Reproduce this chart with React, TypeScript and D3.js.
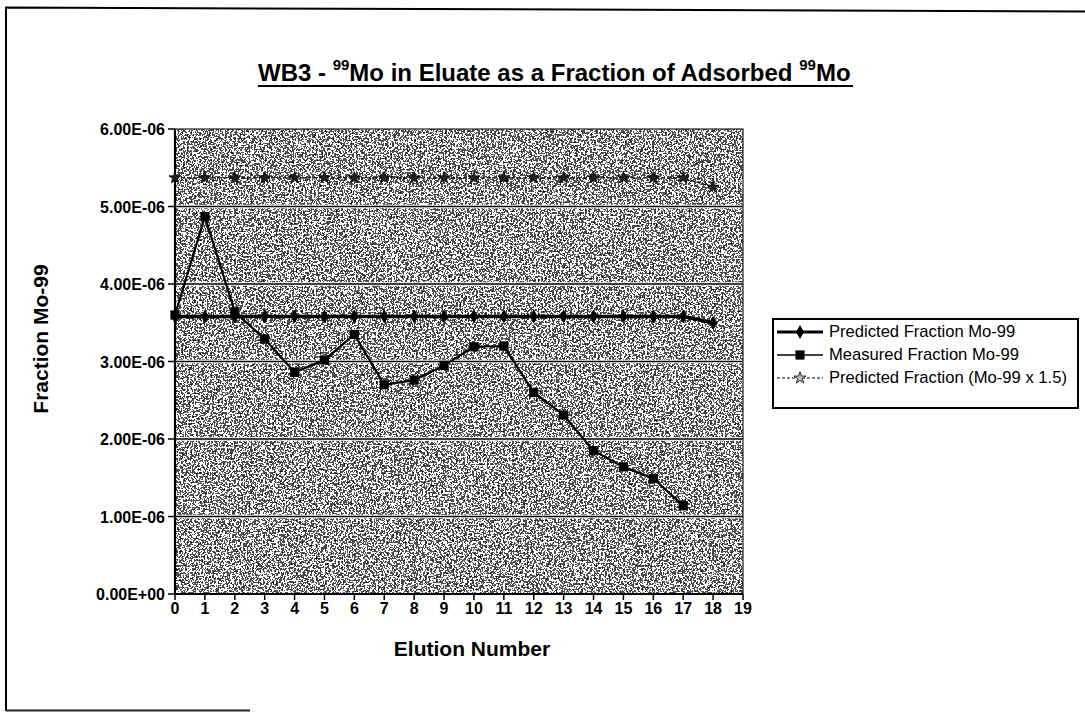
import React from "react";
import * as d3 from "d3";

// Elution numbers shown on the category axis
const elutions: number[] = d3.range(0, 20);

// Predicted fraction of adsorbed Mo-99 appearing in each eluate
const predicted: number[] = [
  3.58e-6, 3.58e-6, 3.58e-6, 3.58e-6, 3.58e-6, 3.58e-6, 3.58e-6, 3.58e-6, 3.58e-6, 3.58e-6,
  3.58e-6, 3.58e-6, 3.58e-6, 3.58e-6, 3.58e-6, 3.58e-6, 3.58e-6, 3.58e-6, 3.5e-6,
];

// Measured fraction (elutions 0-17)
const measured: number[] = [
  3.6e-6, 4.87e-6, 3.64e-6, 3.29e-6, 2.86e-6, 3.02e-6, 3.35e-6, 2.7e-6, 2.76e-6, 2.95e-6,
  3.19e-6, 3.2e-6, 2.6e-6, 2.31e-6, 1.85e-6, 1.64e-6, 1.49e-6, 1.14e-6,
];

// Predicted fraction scaled by 1.5
const predicted15: number[] = [
  5.37e-6, 5.37e-6, 5.37e-6, 5.37e-6, 5.37e-6, 5.37e-6, 5.37e-6, 5.37e-6, 5.37e-6, 5.37e-6,
  5.37e-6, 5.37e-6, 5.37e-6, 5.37e-6, 5.37e-6, 5.37e-6, 5.37e-6, 5.37e-6, 5.25e-6,
];

const yTicks: number[] = [0, 1e-6, 2e-6, 3e-6, 4e-6, 5e-6, 6e-6];
const yTickLabels: string[] = ["0.00E+00", "1.00E-06", "2.00E-06", "3.00E-06", "4.00E-06", "5.00E-06", "6.00E-06"];

const legendLabels: string[] = [
  "Predicted Fraction Mo-99",
  "Measured Fraction Mo-99",
  "Predicted Fraction (Mo-99 x 1.5)",
];

const FONT = "'Liberation Sans', Arial, sans-serif";

export default function App() {
  const W = 1085;
  const H = 713;
  const left = 175;
  const right = 743;
  const top = 129;
  const bottom = 594;

  const x = d3.scalePoint<number>().domain(elutions).range([left, right]);
  const y = d3.scaleLinear().domain([0, 6e-6]).range([bottom, top]);

  const line = d3
    .line<number>()
    .x((_, i) => x(elutions[i]) as number)
    .y((d) => y(d));

  const diamond = d3.symbol().type(d3.symbolDiamond).size(56)() as string;
  const square = d3.symbol().type(d3.symbolSquare).size(85)() as string;
  const star = d3.symbol().type(d3.symbolStar).size(45)() as string;

  const legX = 773;
  const legY = 319;
  const legRowY = [332, 355, 378];

  return (
    <svg
      width={W}
      height={H}
      viewBox={`0 0 ${W} ${H}`}
      style={{ position: "absolute", left: 0, top: 0, background: "#fff" }}
    >
      <defs>
        <filter
          id="grain"
          x="0"
          y="0"
          width="1"
          height="1"
          filterUnits="objectBoundingBox"
          colorInterpolationFilters="sRGB"
        >
          <feTurbulence type="fractalNoise" baseFrequency="0.55" numOctaves="2" seed="7" result="noise" />
          <feColorMatrix in="noise" type="saturate" values="0" result="gray" />
          <feComponentTransfer in="gray">
            <feFuncR type="discrete" tableValues="0 0.05 0.3 1 1 1" />
            <feFuncG type="discrete" tableValues="0 0.05 0.3 1 1 1" />
            <feFuncB type="discrete" tableValues="0 0.05 0.3 1 1 1" />
            <feFuncA type="discrete" tableValues="1" />
          </feComponentTransfer>
        </filter>
      </defs>

      {/* page frame */}
      <path d={`M${W},11.5 L6,7.5 L6,711`} fill="none" stroke="#000" strokeWidth={2} />
      <line x1={6} y1={710.5} x2={250} y2={710.5} stroke="#222" strokeWidth={2} />

      {/* title */}
      <text x={258} y={81} fontFamily={FONT} fontWeight="bold" fontSize={24} fill="#000">
        <tspan>WB3 -  </tspan>
        <tspan fontSize={15} dy={-11}>99</tspan>
        <tspan dy={11}>Mo in Eluate as a Fraction of Adsorbed </tspan>
        <tspan fontSize={15} dy={-11}>99</tspan>
        <tspan dy={11}>Mo</tspan>
      </text>
      <line x1={258} y1={86} x2={853} y2={86} stroke="#000" strokeWidth={2} />

      {/* plot area */}
      <rect x={left} y={top} width={right - left} height={bottom - top} fill="#808080" />
      <rect x={left} y={top} width={right - left} height={bottom - top} filter="url(#grain)" />

      {/* gridlines */}
      {yTicks.slice(1, -1).map((t) => (
        <g key={`g${t}`}>
          <line x1={left} x2={right} y1={y(t)} y2={y(t)} stroke="#fff" strokeWidth={3.5} />
          <line x1={left} x2={right} y1={y(t)} y2={y(t)} stroke="#000" strokeWidth={1.3} />
        </g>
      ))}
      <rect x={left} y={top} width={right - left} height={bottom - top} fill="none" stroke="#222" strokeWidth={1.2} />

      {/* axes */}
      <line x1={left} x2={left} y1={top} y2={bottom} stroke="#000" strokeWidth={2.2} />
      <line x1={left} x2={right} y1={bottom} y2={bottom} stroke="#000" strokeWidth={2.2} />
      {yTicks.map((t, i) => (
        <g key={`y${t}`}>
          <line x1={left - 7} x2={left} y1={y(t)} y2={y(t)} stroke="#000" strokeWidth={1.5} />
          <text x={165} y={y(t) + 6} textAnchor="end" fontFamily={FONT} fontWeight="bold" fontSize={16}>
            {yTickLabels[i]}
          </text>
        </g>
      ))}
      {elutions.map((e) => (
        <g key={`x${e}`}>
          <line x1={x(e)} x2={x(e)} y1={bottom} y2={bottom + 6} stroke="#000" strokeWidth={1.5} />
          <text x={x(e)} y={614} textAnchor="middle" fontFamily={FONT} fontWeight="bold" fontSize={16}>
            {e}
          </text>
        </g>
      ))}

      <text x={472} y={656} textAnchor="middle" fontFamily={FONT} fontWeight="bold" fontSize={21}>
        Elution Number
      </text>
      <text
        transform={`translate(48, 339) rotate(-90)`}
        textAnchor="middle"
        fontFamily={FONT}
        fontWeight="bold"
        fontSize={21}
      >
        Fraction Mo-99
      </text>

      {/* Predicted x 1.5 */}
      <path d={line(predicted15) as string} fill="none" stroke="#000" strokeWidth={1.4} strokeDasharray="4,2" />
      {predicted15.map((v, i) => (
        <path
          key={`s${i}`}
          d={star}
          transform={`translate(${x(elutions[i])},${y(v)})`}
          fill="#222"
          stroke="#000"
          strokeWidth={0.8}
        />
      ))}

      {/* Predicted */}
      <path d={line(predicted) as string} fill="none" stroke="#000" strokeWidth={3.5} />
      {predicted.map((v, i) => (
        <path key={`d${i}`} d={diamond} transform={`translate(${x(elutions[i])},${y(v)})`} fill="#000" />
      ))}

      {/* Measured */}
      <path d={line(measured) as string} fill="none" stroke="#000" strokeWidth={2.2} />
      {measured.map((v, i) => (
        <path key={`m${i}`} d={square} transform={`translate(${x(elutions[i])},${y(v)})`} fill="#000" />
      ))}

      {/* legend */}
      <rect x={legX} y={legY} width={1078 - legX} height={408 - legY} fill="#fff" stroke="#000" strokeWidth={2} />
      {legendLabels.map((lab, i) => {
        const cy = legRowY[i];
        return (
          <g key={lab}>
            {i === 0 && (
              <>
                <line x1={777} x2={823} y1={cy} y2={cy} stroke="#000" strokeWidth={3} />
                <path d={diamond} transform={`translate(800,${cy})`} fill="#000" />
              </>
            )}
            {i === 1 && (
              <>
                <line x1={777} x2={823} y1={cy} y2={cy} stroke="#000" strokeWidth={1.3} />
                <path d={square} transform={`translate(800,${cy})`} fill="#000" />
              </>
            )}
            {i === 2 && (
              <>
                <line x1={777} x2={823} y1={cy} y2={cy} stroke="#000" strokeWidth={1} strokeDasharray="3,2" />
                <path d={star} transform={`translate(800,${cy})`} fill="#bbb" stroke="#000" strokeWidth={0.8} />
              </>
            )}
            <text x={829} y={cy + 5} fontFamily={FONT} fontSize={16.6} fill="#000">
              {lab}
            </text>
          </g>
        );
      })}
    </svg>
  );
}
